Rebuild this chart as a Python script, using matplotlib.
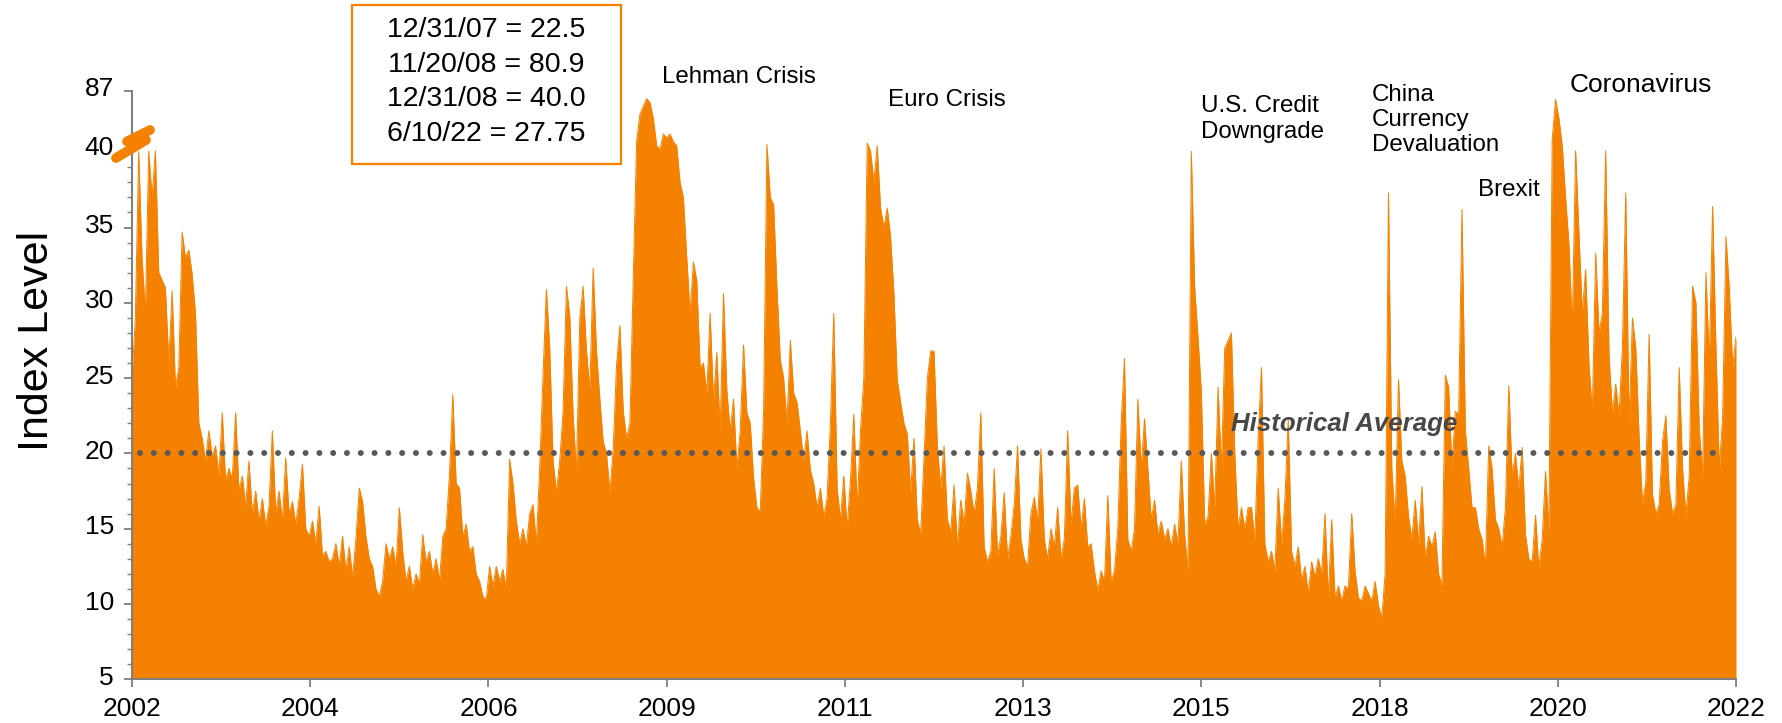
import numpy as np
import matplotlib
matplotlib.use("Agg")
import matplotlib.pyplot as plt
from matplotlib.lines import Line2D
from matplotlib.patches import Rectangle
from matplotlib.transforms import ScaledTranslation

plt.rcParams['font.family'] = ['Liberation Sans', 'DejaVu Sans']

# VIX index level, two readings per month (early / late), Jul 2002 - Jun 2022
vix_2002_04 = [25, 29, 40.5, 33, 29.3, 40.6, 37, 41, 32, 31.5, 31, 26, 30.8, 24.4, 25.7, 34.7,
               33, 33.5, 31.9, 29.3, 22, 21, 19.5, 21.5, 19.8, 20.5, 18.5, 22.7, 18.2, 19,
               18.3, 22.7, 17.5, 18.5, 16.5, 19.5, 16, 17.5, 15.5, 17, 15.2, 16.5, 21.5, 16,
               17.5, 15.5, 19.7, 16, 16.8, 15.3, 17, 19.3, 15, 14.5, 15.5, 14, 16.5, 13.2, 13.5, 12.8]
vix_2005_07 = [13, 14, 12.5, 14.5, 12.2, 13.8, 11.8, 14.3, 17.7, 16.8, 14.5, 13, 12.5, 11, 10.5,
               11.5, 14, 13, 13.8, 12.5, 16.4, 13.5, 11.5, 12.5, 11, 12, 11.3, 14.6, 12.8, 13.5,
               12, 13, 11.5, 14.5, 15, 18.6, 23.9, 18, 17.7, 14.5, 15.3, 13.5, 13.8, 12, 11.5,
               10.5, 10.3, 12.5, 11.2, 12.5, 11.5, 12.3, 11, 19.6, 18, 15.5, 14, 15, 13.8, 16]
vix_2007_09 = [16.6, 14, 19, 25.2, 30.9, 27, 19.5, 17.4, 19.5, 22.8, 31.1, 29.1, 22.5, 18.7, 29,
               31.1, 26.8, 24.2, 32.3, 26.8, 23.6, 20.8, 20, 17.4, 20.3, 25.9, 28.5, 22.8, 21, 22,
               31.6, 48, 69, 75, 80.9, 78, 66, 45, 42, 54, 51, 54, 48, 45, 38,
               37, 33, 29.3, 32.7, 31.5, 25.7, 26, 24, 29.3, 23.5, 26.7, 21.5, 30.6, 24.2, 21.5]
vix_2010_12 = [23.6, 19, 21.5, 27.2, 22.7, 22, 18.4, 16.4, 16.1, 22.8, 46, 37, 36.5, 31, 26.2,
               25, 22, 27.5, 24, 23.4, 21.5, 19.5, 21.5, 18.9, 18, 16.4, 17.7, 15.8, 17, 22,
               29.3, 17.7, 15.6, 18.5, 15, 18.2, 22.6, 16.4, 21.5, 25, 47, 41, 38, 45, 36.3,
               35, 36.3, 34.4, 30.6, 24.9, 23.4, 22, 21.3, 17.4, 21, 15.6, 14.6, 19.7, 25, 26.8]
vix_2012_14 = [26.8, 20.5, 17.7, 20.5, 15.6, 14.8, 17.9, 13.8, 16.9, 15.3, 18.7, 17.5, 16, 17.7, 22.7,
               13.8, 12.8, 13.5, 19, 13.2, 14.5, 17.4, 13, 14.5, 16.6, 20.5, 14.3, 13, 12.5, 16,
               17.1, 15.5, 20.3, 14.3, 13, 15, 13.8, 16.4, 13, 14.3, 21.5, 15.3, 17.7, 17.9, 15,
               17, 13.8, 14, 12.2, 10.9, 12.2, 11.5, 17.2, 11.5, 12.2, 15, 22, 26.3, 14.3, 13.5]
vix_2015_17 = [15, 23.6, 19, 22.3, 19, 15.6, 16.9, 14.6, 15.5, 14.3, 15, 13.8, 15.3, 14, 19.5,
               14.6, 12.2, 40.7, 31, 27.7, 24.1, 15.3, 15.8, 20, 16.4, 24.4, 19, 27, 27.5, 28,
               20, 15, 16.4, 15, 16.4, 16.4, 14.3, 21, 25.7, 14, 12.8, 13.5, 12.2, 17.7, 14,
               16.9, 22.3, 13.5, 12.5, 13.8, 11.6, 12.5, 10.7, 12.8, 11.8, 13, 12, 16, 10.4, 15.6]
vix_2017_19 = [10.4, 11.2, 10.2, 11.2, 11, 16, 12.2, 10.4, 10.2, 11.2, 10.7, 10.2, 11.5, 9.9, 9.1,
               12, 37.3, 19, 15.3, 24.9, 19.5, 18.5, 15.8, 14.3, 16.9, 14, 17.8, 13, 14.5, 13.8,
               14.8, 12, 11.2, 25.2, 24.4, 19, 22.8, 22.6, 36.2, 21.5, 19, 16.4, 16.4, 15, 14.3,
               12.5, 20.5, 19, 15.6, 15, 13.8, 16.4, 24.5, 18.5, 20, 17.6, 20.4, 14.6, 13, 12.8]
vix_2020_22 = [15.9, 12.4, 14.3, 18.8, 14.8, 50, 80.4, 66, 45, 37, 33.9, 28.4, 41, 34.6, 29.3,
               32.2, 25.9, 22.7, 33.3, 28, 29.3, 41, 26.5, 22.7, 24.6, 22.5, 27, 37.3, 22, 29,
               27, 21.1, 16.7, 18.1, 27.9, 17.3, 16, 16.6, 20.8, 22.5, 17.6, 16, 16.6, 25.7, 19,
               15.9, 18.5, 31.1, 30, 21.6, 18.5, 32, 26, 36.4, 27, 18.9, 22.5, 34.4, 30.9, 25.7]
last_close = 27.75

hist_avg = 20
year_labels = ['2002', '2004', '2006', '2009', '2011', '2013', '2015', '2018', '2020', '2022']
y_ticks = [5, 10, 15, 20, 25, 30, 35, 40]
y_top = 87
box_text = "12/31/07 = 22.5\n11/20/08 = 80.9\n12/31/08 = 40.0\n6/10/22 = 27.75"
events = [("Lehman Crisis", 662, 77, 17.4),
          ("Euro Crisis", 888, 100, 17.4),
          ("U.S. Credit\nDowngrade", 1201, 119, 17.4),
          ("China\nCurrency\nDevaluation", 1372, 120, 17.4),
          ("Brexit", 1478, 190, 17.4),
          ("Coronavirus", 1570, 85, 19)]

ORANGE = '#F58100'
GREY = '#7f7f7f'
W, H = 1783, 723

# above 40 the axis is squashed (broken scale)
K = 0.0869


def squash(v):
    v = np.asarray(v, dtype=float)
    return np.where(v > 40, 40 + (v - 40) * K, v)


vix = np.array(vix_2002_04 + vix_2005_07 + vix_2007_09 + vix_2010_12 +
               vix_2012_14 + vix_2015_17 + vix_2017_19 + vix_2020_22 + [last_close])
x = np.arange(len(vix)) * 0.5  # months since Jul 2002

fig = plt.figure(figsize=(W / 100, H / 100), dpi=100)
ax = fig.add_axes([132 / W, 1 - 679.3 / H, (1736 - 132) / W, (679.3 - 90.7) / H])

ax.fill_between(x, 5, squash(vix), color=ORANGE, lw=0)
ax.plot(x, squash(vix), color=ORANGE, lw=0.7)

ax.axhline(hist_avg, xmin=0.005, xmax=0.99, color='#595959', lw=4.3,
           linestyle=(0, (0.01, 2.3)), dash_capstyle='round')

ax.set_xlim(0, x[-1])
ax.set_ylim(5, float(squash(y_top)))
ax.set_xticks(np.linspace(0, x[-1], len(year_labels)))
ax.set_xticklabels(year_labels)
ax.set_yticks(y_ticks + [float(squash(y_top))])
ax.set_yticklabels([str(t) for t in y_ticks] + [str(y_top)])
ax.set_yticks([v for v in range(6, 40) if v % 5], minor=True)

for s in ['top', 'right']:
    ax.spines[s].set_visible(False)
for s in ['left', 'bottom']:
    ax.spines[s].set_color(GREY)
    ax.spines[s].set_linewidth(1.5)
ax.tick_params(axis='both', which='major', length=6, width=1.3, color=GREY,
               labelsize=19, pad=7)
ax.tick_params(axis='y', which='minor', length=3.5, width=1, color=GREY)

# y labels sit a little above their ticks, "40" more so (next to the break)
for lab in ax.get_yticklabels():
    up = 7 if lab.get_text() == '40' else 4
    lab.set_transform(lab.get_transform() + ScaledTranslation(0, up / 100, fig.dpi_scale_trans))

fig.text(37.5 / W, 1 - 341 / H, "Index Level", rotation=90, fontsize=31,
         ha='center', va='center')

fig.text(1231 / W, 1 - 424 / H, "Historical Average", fontsize=18.6,
         fontweight='bold', fontstyle='italic', color='#474747', ha='left', va='center')

for label, px, py, fs in events:
    fig.text(px / W, 1 - py / H, label, fontsize=fs, ha='left', va='center')

# value box
fig.add_artist(Rectangle((352 / W, 1 - 164 / H), (621 - 352) / W, (164 - 5) / H,
                         transform=fig.transFigure, fill=False, ec=ORANGE, lw=1.6))
fig.text(486 / W, 1 - 82 / H, box_text, fontsize=20.5, ha='center', va='center',
         multialignment='center', linespacing=1.44)

# axis break marker (lightning-like zigzag)
bx = np.array([150, 127, 146, 116])
by = np.array([130, 141.5, 140, 158])
fig.add_artist(Line2D(bx / W, 1 - by / H, transform=fig.transFigure, color=ORANGE,
                      lw=7, solid_capstyle='round', solid_joinstyle='round'))

fig.savefig("out.png", dpi=100)
